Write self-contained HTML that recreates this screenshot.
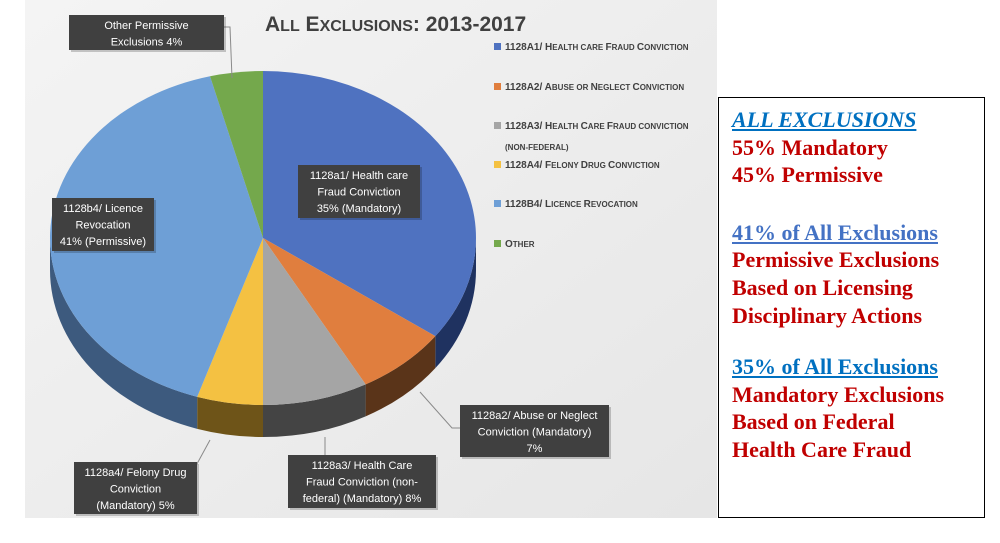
<!DOCTYPE html>
<html><head><meta charset="utf-8">
<style>
body{margin:0;width:1000px;height:543px;background:#fff;overflow:hidden;position:relative;font-family:"Liberation Sans",sans-serif}
#chart{position:absolute;left:0;top:0}
.panel{position:absolute;left:718px;top:97px;width:267px;height:421px;border:1.5px solid #000;box-sizing:border-box;font-family:"Liberation Serif",serif;font-weight:bold;font-size:22px;line-height:27.6px;color:#c00000;padding:8px 0 0 13px}
.panel .h{color:#0070c0;text-decoration:underline}
.panel .h2{color:#4472c4;text-decoration:underline}
.gap{height:30px}
</style></head><body>
<svg id="chart" width="720" height="543">
<defs>
<linearGradient id="bg" x1="0" y1="0" x2="1" y2="1"><stop offset="0" stop-color="#f4f4f4"/><stop offset="1" stop-color="#e6e6e6"/></linearGradient>
</defs>
<rect x="25" y="0" width="692" height="518" fill="url(#bg)"/>
<text x="265" y="31" font-size="21" font-weight="bold" fill="#404040" font-family="Liberation Sans Narrow, Liberation Sans, sans-serif">A<tspan font-size="16">LL</tspan> E<tspan font-size="16">XCLUSIONS</tspan>: 2013-2017</text>
<g id="pie"></g>
<g id="legend"></g>
<g id="labels"></g>
</svg>
<div class="panel">
<div class="h"><i>ALL EXCLUSIONS</i></div>
<div>55% Mandatory</div>
<div>45% Permissive</div>
<div class="gap"></div>
<div class="h2">41% of All Exclusions</div>
<div>Permissive Exclusions</div>
<div>Based on Licensing</div>
<div>Disciplinary Actions</div>
<div class="gap" style="height:24px"></div>
<div class="h">35% of All Exclusions</div>
<div>Mandatory Exclusions</div>
<div>Based on Federal</div>
<div>Health Care Fraud</div>
</div>
<script>
const categories=["1128a1/ Health care Fraud Conviction","1128a2/ Abuse or Neglect Conviction","1128a3/ Health Care Fraud Conviction (non-federal)","1128a4/ Felony Drug Conviction","1128b4/ Licence Revocation","Other"];
const values=[35,7,8,5,41,4];
const colors=["#4f72c0","#e07e3e","#a5a5a5","#f4c142","#6e9fd6","#74a84c"];
const sideColors=["#1f3260","#5a3419","#444444","#6e5418","#3d5a7e","#3f5c28"];
const legendText=[["1128A1/ H","EALTH CARE ","F","RAUD ","C","ONVICTION"],["1128A2/ A","BUSE OR ","N","EGLECT ","C","ONVICTION"],["1128A3/ H","EALTH ","C","ARE ","F","RAUD CONVICTION"],["1128A4/ F","ELONY ","D","RUG ","C","ONVICTION"],["1128B4/ L","ICENCE ","R","EVOCATION"],["O","THER"]];
const NS="http://www.w3.org/2000/svg";
const cx=263,cy=238,rx=213,ry=167,depth=32;
const pie=document.getElementById('pie');
const total=values.reduce((a,b)=>a+b,0);
function pt(a,dy){return [cx+rx*Math.sin(a),cy-ry*Math.cos(a)+(dy||0)];}
function mk(tag,attrs){const e=document.createElementNS(NS,tag);for(const k in attrs)e.setAttribute(k,attrs[k]);return e;}
let acc=0;const angles=[];
values.forEach(v=>{const a1=acc/total*2*Math.PI;acc+=v;angles.push([a1,acc/total*2*Math.PI]);});
// sides
angles.forEach(([a1,a2],i)=>{
  const s=Math.max(a1,Math.PI/2),e=Math.min(a2,3*Math.PI/2);
  if(e<=s)return;
  const p1=pt(s),p2=pt(e),p3=pt(e,depth),p4=pt(s,depth);
  const d=`M${p1}A${rx},${ry} 0 0 1 ${p2}L${p3}A${rx},${ry} 0 0 0 ${p4}Z`;
  const side=mk('path',{d:d,fill:sideColors[i]});
  
  
  pie.appendChild(side);
});
// tops
angles.forEach(([a1,a2],i)=>{
  const p1=pt(a1),p2=pt(a2);const large=(a2-a1)>Math.PI?1:0;
  const sl=mk('path',{d:`M${cx},${cy}L${p1}A${rx},${ry} 0 ${large} 1 ${p2}Z`,fill:colors[i]});
  
  
  pie.appendChild(sl);
});
// legend
const lg=document.getElementById('legend');
const ly=[50,90,129,168,207,247];
categories.forEach((c,i)=>{
  const r=mk('rect',{x:494,y:ly[i]-7,width:7,height:7,fill:colors[i]});
  
  
  lg.appendChild(r);
  const t=mk('text',{x:505,y:ly[i],'font-size':10,'font-weight':'bold',fill:'#404040'});
  
  
  legendText[i].forEach((s,j)=>{const ts=mk('tspan',{'font-size':(j%2==0?10:8)});ts.textContent=s;t.appendChild(ts);});
  lg.appendChild(t);
});
const t2=mk('text',{x:505,y:150,'font-size':8,'font-weight':'bold',fill:'#404040'});
t2.textContent='(NON-FEDERAL)';


lg.appendChild(t2);
// labels
const lab=document.getElementById('labels');
const boxes=[
 {x:298,y:165,w:122,h:53,t:["1128a1/ Health care","Fraud Conviction",values[0]+"% (Mandatory)"]},
 {x:460,y:405,w:149,h:52,t:["1128a2/ Abuse or Neglect","Conviction (Mandatory)",values[1]+"%"]},
 {x:288,y:455,w:148,h:53,t:["1128a3/ Health Care","Fraud Conviction (non-","federal) (Mandatory) "+values[2]+"%"]},
 {x:74,y:462,w:123,h:52,t:["1128a4/ Felony Drug","Conviction","(Mandatory) "+values[3]+"%"]},
 {x:52,y:198,w:102,h:53,t:["1128b4/ Licence","Revocation",values[4]+"% (Permissive)"]},
 {x:69,y:15,w:155,h:35,t:["Other Permissive","Exclusions "+values[5]+"%"]}
];
[[232,78,230,27,224,27],[420,392,452,428,460,428],[325,437,325,455,325,455],[210,440,186,484,197,484]].forEach((l,i)=>{
  const pl=mk('polyline',{points:l.join(','),fill:'none',stroke:'#8a8a8a','stroke-width':1});
  
  
  lab.appendChild(pl);
});
boxes.forEach((b,i)=>{
  const r=mk('rect',{x:b.x+2,y:b.y+2,width:b.w,height:b.h,fill:'#00000033'});
  lab.appendChild(r);
  const r2=mk('rect',{x:b.x,y:b.y,width:b.w,height:b.h,fill:'#404040'});
  
  
  lab.appendChild(r2);
  b.t.forEach((s,j)=>{
    const t=mk('text',{x:b.x+b.w/2,y:b.y+14+j*16.5,'font-size':11,fill:'#fff','text-anchor':'middle'});
    t.textContent=s;
    
    
    lab.appendChild(t);
  });
});
</script>
</body></html>
